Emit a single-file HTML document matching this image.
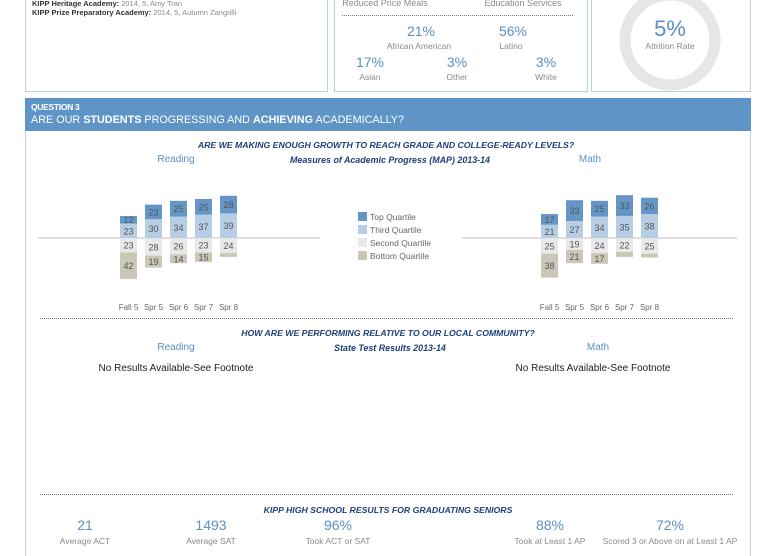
<!DOCTYPE html>
<html><head><meta charset="utf-8">
<style>
body{margin:0;width:768px;height:550px;background:#fff;font-family:"Liberation Sans",sans-serif;position:relative;overflow:hidden}
.abs{position:absolute;white-space:nowrap}
.c{transform:translateX(-50%)}
.box{position:absolute;border:1px solid #b9d0e6;box-sizing:border-box}
.blue{color:#5b8fc7}
.gray{color:#8a8a8a}
.tt{font-style:italic;font-weight:bold;color:#1f3e7a;font-size:8.7px}
.st{font-size:8.9px}
.dot{position:absolute;border-top:1px dotted #777;height:0}
</style></head><body>
<div class="box" style="left:25px;top:-2px;width:303px;height:94px"></div>
<div class="abs" style="left:32px;top:-1px;font-size:7.5px;color:#333"><b>KIPP Heritage Academy:</b> <span class="gray">2014, 5, Amy Tran</span></div>
<div class="abs" style="left:32px;top:8px;font-size:7.5px;color:#333"><b>KIPP Prize Preparatory Academy:</b> <span class="gray">2014, 5, Autumn Zangrilli</span></div>

<div class="box" style="left:334px;top:-2px;width:254px;height:94px"></div>
<div class="abs c gray" style="left:385px;top:-2px;font-size:9px">Reduced Price Meals</div>
<div class="abs c gray" style="left:523px;top:-2px;font-size:9px">Education Services</div>
<div class="dot" style="left:342px;top:15px;width:231px"></div>
<div class="abs c blue" style="left:421px;top:23px;font-size:14px">21%</div>
<div class="abs c blue" style="left:513px;top:23px;font-size:14px">56%</div>
<div class="abs c gray" style="left:419px;top:41px;font-size:8.5px">African American</div>
<div class="abs c gray" style="left:511px;top:41px;font-size:8.5px">Latino</div>
<div class="abs c blue" style="left:370px;top:54px;font-size:14px">17%</div>
<div class="abs c blue" style="left:457px;top:54px;font-size:14px">3%</div>
<div class="abs c blue" style="left:546px;top:54px;font-size:14px">3%</div>
<div class="abs c gray" style="left:370px;top:72px;font-size:8.5px">Asian</div>
<div class="abs c gray" style="left:457px;top:72px;font-size:8.5px">Other</div>
<div class="abs c gray" style="left:546px;top:72px;font-size:8.5px">White</div>

<div class="box" style="left:591px;top:-2px;width:160px;height:94px"></div>
<svg class="abs" style="left:610px;top:-20px" width="120" height="120"><circle cx="60" cy="60" r="45" fill="none" stroke="#e6e6e6" stroke-width="11"/></svg>
<div class="abs c blue" style="left:670px;top:16px;font-size:22px">5%</div>
<div class="abs c gray" style="left:670px;top:41px;font-size:8.5px">Attrition Rate</div>

<div class="abs" style="left:25px;top:98px;width:726px;height:33px;background:#5f95c6"></div>
<div class="abs" style="left:31px;top:102px;font-size:8.5px;font-weight:bold;color:#fff;letter-spacing:-0.3px">QUESTION 3</div>
<div class="abs" style="left:31px;top:114px;font-size:10.8px;color:#fff">ARE OUR <b>STUDENTS</b> PROGRESSING AND <b>ACHIEVING</b> ACADEMICALLY?</div>
<div class="abs" style="left:25px;top:131px;width:724px;height:425px;border-left:1px solid #b9d0e6;border-right:1px solid #b9d0e6"></div>

<div class="abs c tt" style="left:386px;top:140px">ARE WE MAKING ENOUGH GROWTH TO REACH GRADE AND COLLEGE-READY LEVELS?</div>
<div class="abs c blue" style="left:176px;top:154px;font-size:10px">Reading</div>
<div class="abs c tt st" style="left:390px;top:155px">Measures of Academic Progress (MAP) 2013-14</div>
<div class="abs c blue" style="left:590px;top:154px;font-size:10px">Math</div>

<svg id="chart" class="abs" style="left:0;top:0" width="768" height="320"></svg>

<div class="dot" style="left:40px;top:318px;width:693px"></div>
<div class="abs c tt" style="left:388px;top:328px">HOW ARE WE PERFORMING RELATIVE TO OUR LOCAL COMMUNITY?</div>
<div class="abs c blue" style="left:176px;top:342px;font-size:10px">Reading</div>
<div class="abs c tt st" style="left:390px;top:343px">State Test Results 2013-14</div>
<div class="abs c blue" style="left:598px;top:342px;font-size:10px">Math</div>
<div class="abs c" style="left:176px;top:363px;font-size:10px;color:#222">No Results Available-See Footnote</div>
<div class="abs c" style="left:593px;top:363px;font-size:10px;color:#222">No Results Available-See Footnote</div>

<div class="dot" style="left:40px;top:494px;width:693px"></div>
<div class="abs c tt" style="left:388px;top:505px">KIPP HIGH SCHOOL RESULTS FOR GRADUATING SENIORS</div>
<div class="abs c blue" style="left:85px;top:517px;font-size:14px">21</div>
<div class="abs c blue" style="left:211px;top:517px;font-size:14px">1493</div>
<div class="abs c blue" style="left:338px;top:517px;font-size:14px">96%</div>
<div class="abs c blue" style="left:550px;top:517px;font-size:14px">88%</div>
<div class="abs c blue" style="left:670px;top:517px;font-size:14px">72%</div>
<div class="abs c gray" style="left:85px;top:536px;font-size:8.5px">Average ACT</div>
<div class="abs c gray" style="left:211px;top:536px;font-size:8.5px">Average SAT</div>
<div class="abs c gray" style="left:338px;top:536px;font-size:8.5px">Took ACT or SAT</div>
<div class="abs c gray" style="left:550px;top:536px;font-size:8.5px">Took at Least 1 AP</div>
<div class="abs c gray" style="left:670px;top:536px;font-size:8.5px">Scored 3 or Above on at Least 1 AP</div>

<script>
const categories = ["Fall 5","Spr 5","Spr 6","Spr 7","Spr 8"];
const readingTop = [12,23,25,25,28];
const readingThird = [23,30,34,37,39];
const readingSecond = [23,28,26,23,24];
const readingBottom = [42,19,14,15,6];
const mathTop = [17,33,25,33,26];
const mathThird = [21,27,34,35,38];
const mathSecond = [25,19,24,22,25];
const mathBottom = [38,21,17,8,6];
const legendLabels = ["Top Quartile","Third Quartile","Second Quartile","Bottom Quartile"];

const colors = {top:"#6497c7",third:"#b7cde3",second:"#e8e8e8",bottom:"#cbc7b8"};
const svg = document.getElementById('chart');
const NS = "http://www.w3.org/2000/svg";
const baseY = 238, k = 0.63, barW = 17, step = 25;
const yPos = v => baseY - v * k;
function mk(tag, attrs){const e=document.createElementNS(NS,tag);for(const a in attrs)e.setAttribute(a,attrs[a]);svg.appendChild(e);return e;}
function drawChart(x0, lineX1, lineX2, top, third, second, bottom, name){
  const ln = mk('line',{x1:lineX1,x2:lineX2,y1:baseY,y2:baseY,stroke:'#d4d4d4','stroke-width':1.5});
  
  
  categories.forEach((c,i)=>{
    const x = x0 + i*step;
    const segs = [
      [0, third[i], colors.third, 'third'],
      [third[i], third[i]+top[i], colors.top, 'top'],
      [0, -second[i], colors.second, 'second'],
      [-second[i], -second[i]-bottom[i], colors.bottom, 'bottom']
    ];
    segs.forEach(s=>{
      const y1 = yPos(Math.max(s[0],s[1])), y2 = yPos(Math.min(s[0],s[1]));
      const r = mk('rect',{x:x,y:y1,width:barW,height:y2-y1,fill:s[2]});
      
      
      const v = Math.abs(s[1]-s[0]);
      if (v >= 10) {
        const t = mk('text',{x:x+barW/2,y:(y1+y2)/2+3.5,'text-anchor':'middle','font-size':9,fill:'#555','font-family':'Liberation Sans, sans-serif'});
        t.textContent = v;
        
        
      }
    });
    const t = mk('text',{x:x+barW/2,y:310,'text-anchor':'middle','font-size':8,fill:'#666','font-family':'Liberation Sans, sans-serif'});
    t.textContent = c;
    
    
  });
}
drawChart(120, 38, 320, readingTop, readingThird, readingSecond, readingBottom, 'reading');
drawChart(541, 462, 737, mathTop, mathThird, mathSecond, mathBottom, 'math');
const legColors = [colors.top, colors.third, colors.second, colors.bottom];
legendLabels.forEach((l,i)=>{
  const y = 212 + i*13;
  const r = mk('rect',{x:358,y:y,width:9,height:9,fill:legColors[i]});
  
  
  const t = mk('text',{x:370,y:y+8,'font-size':8.5,fill:'#666','font-family':'Liberation Sans, sans-serif'});
  t.textContent = l;
  
  
});
</script>
</body></html>
